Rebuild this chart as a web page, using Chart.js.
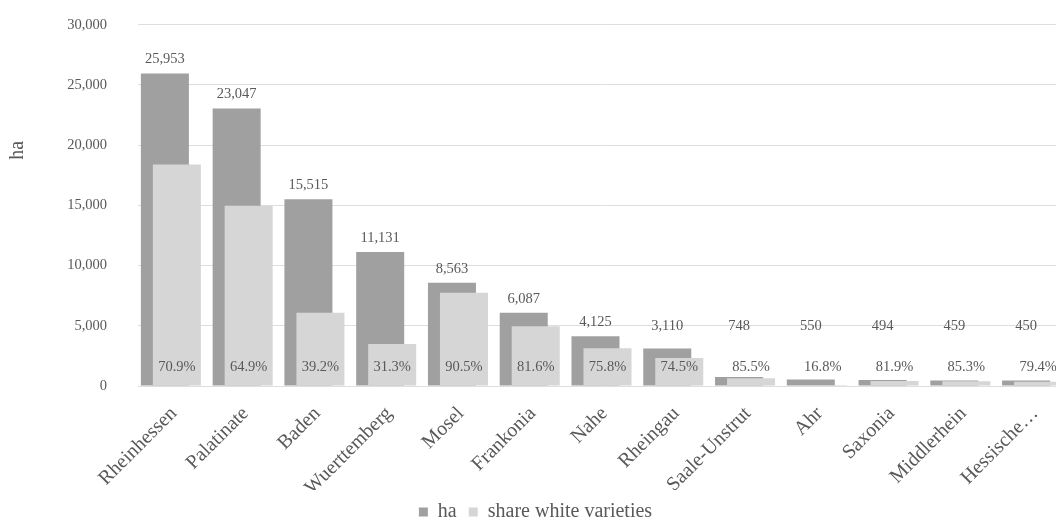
<!DOCTYPE html>
<html>
<head>
<meta charset="utf-8">
<script src="https://cdn.jsdelivr.net/npm/chart.js@4"></script>
<style>
  html, body { margin: 0; padding: 0; background: #fff; overflow: hidden; }
  #wrap { width: 1080px; height: 547px; margin-top: -15px; }
</style>
</head>
<body>
<div id="wrap"><canvas id="chart" width="1080" height="547"></canvas></div>
<script>
'use strict';

const regions = ['Rheinhessen', 'Palatinate', 'Baden', 'Wuerttemberg', 'Mosel', 'Frankonia', 'Nahe',
  'Rheingau', 'Saale-Unstrut', 'Ahr', 'Saxonia', 'Middlerhein', 'Hessische\u2026'];
const hectares = [25953, 23047, 15515, 11131, 8563, 6087, 4125, 3110, 748, 550, 494, 459, 450];
const whiteShare = [70.9, 64.9, 39.2, 31.3, 90.5, 81.6, 75.8, 74.5, 85.5, 16.8, 81.9, 85.3, 79.4];
// hectares planted with white varieties (bar height of the light series)
const whiteHectares = [18401, 14958, 6082, 3484, 7750, 4967, 3127, 2317, 640, 92, 405, 392, 357];
const yTicks = [0, 5000, 10000, 15000, 20000, 25000, 30000];

const textColor = '#595959';
const serif = '"Liberation Serif", "DejaVu Serif", serif';

// value labels above the dark bars, percentages inside the light ones
const barLabels = {
  id: 'barLabels',
  afterDatasetsDraw(chart) {
    const ctx = chart.ctx;
    const y = chart.scales.y;
    ctx.save();
    ctx.font = '14.5px ' + serif;
    ctx.fillStyle = textColor;
    ctx.textAlign = 'center';
    ctx.textBaseline = 'middle';
    chart.getDatasetMeta(0).data.forEach((bar, i) => {
      const ty = Math.min(bar.y - 14, y.getPixelForValue(5000));
      ctx.fillText(hectares[i].toLocaleString('en-US'), bar.x, ty);
    });
    chart.getDatasetMeta(3).data.forEach((bar, i) => {
      ctx.fillText(whiteShare[i].toFixed(1) + '%', bar.x, y.getPixelForValue(0) - 19);
    });
    ctx.restore();
  }
};

const barOpts = {
  categoryPercentage: 0.3345,
  barPercentage: 8,
  borderWidth: 0
};

new Chart(document.getElementById('chart'), {
  type: 'bar',
  data: {
    labels: regions,
    datasets: [
      Object.assign({ label: 'ha', data: hectares, backgroundColor: '#a0a0a0', xAxisID: 'x', order: 1 }, barOpts),
      Object.assign({ label: 'spacer1', data: [], xAxisID: 'x', order: 2 }, barOpts),
      Object.assign({ label: 'spacer2', data: [], xAxisID: 'x2', order: 0 }, barOpts),
      Object.assign({ label: 'share white varieties', data: whiteHectares, backgroundColor: '#d6d6d6', xAxisID: 'x2', order: 0 }, barOpts)
    ]
  },
  options: {
    responsive: false,
    animation: false,
    layout: { padding: { top: 0, right: 9, left: 0, bottom: 0 } },
    plugins: {
      tooltip: { enabled: false },
      legend: {
        position: 'bottom',
        labels: {
          color: textColor,
          font: { family: serif, size: 20 },
          boxWidth: 9,
          boxHeight: 9,
          padding: 12,
          filter: item => item.datasetIndex === 0 || item.datasetIndex === 3,
          sort: (a, b) => a.datasetIndex - b.datasetIndex
        }
      }
    },
    scales: {
      x: {
        grid: { display: false },
        border: { display: false },
        ticks: {
          color: textColor,
          font: { family: serif, size: 20 },
          minRotation: 45,
          maxRotation: 45,
          autoSkip: false,
          padding: 8
        },
        afterFit: s => { s.height = 104; }
      },
      x2: {
        display: false,
        grid: { display: false }
      },
      y: {
        min: 0,
        max: 30000,
        afterBuildTicks: s => { s.ticks = yTicks.map(v => ({ value: v })); },
        grid: { color: '#dedede', drawTicks: false },
        border: { display: false },
        ticks: {
          color: textColor,
          font: { family: serif, size: 14.5 },
          padding: 31,
          callback: v => v.toLocaleString('en-US')
        },
        title: {
          display: true,
          // leading spaces lift the title above the axis middle, as in the original
          text: ' '.repeat(22) + 'ha',
          color: textColor,
          font: { family: serif, size: 20 },
          padding: { top: 6, bottom: 0 }
        },
        afterFit: s => { s.width = 138; }
      }
    }
  },
  plugins: [barLabels]
});
</script>
</body>
</html>
